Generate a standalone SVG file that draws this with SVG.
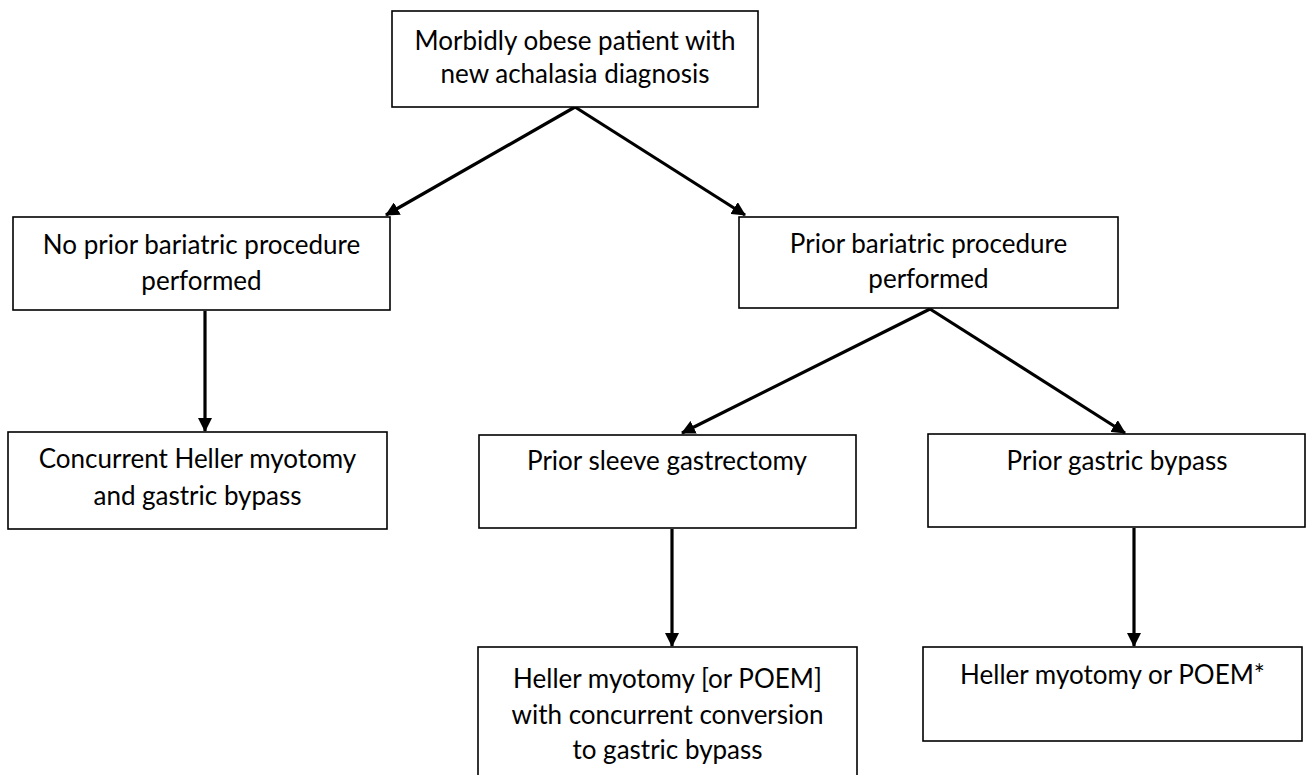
<svg xmlns="http://www.w3.org/2000/svg" width="1307" height="775" viewBox="0 0 1307 775">
<style>
.box{fill:#fff;stroke:#000;stroke-width:1.6}
.t{font-family:Lato,"Open Sans","Liberation Sans",sans-serif;font-size:26px;fill:#000;text-anchor:middle}
.c{stroke:#000;stroke-width:3.2;fill:none;marker-end:url(#ah)}
</style>
<defs>
<marker id="ah" viewBox="0 0 14 14" refX="13" refY="7" markerWidth="14" markerHeight="14" markerUnits="userSpaceOnUse" orient="auto">
<path d="M0,0 L14,7 L0,14 z" fill="#000"/>
</marker>
</defs>
<rect width="1307" height="775" fill="#fff"/>
<g id="connectors">
<line class="c" x1="575" y1="107" x2="386" y2="215"/>
<line class="c" x1="575" y1="107" x2="745" y2="215"/>
<line class="c" x1="205" y1="311" x2="205" y2="431"/>
<line class="c" x1="930" y1="309" x2="682" y2="433"/>
<line class="c" x1="930" y1="309" x2="1125" y2="433"/>
<line class="c" x1="672" y1="529" x2="672" y2="646"/>
<line class="c" x1="1134" y1="528" x2="1134" y2="646"/>
</g>
<g id="n1">
<rect class="box" x="392" y="11" width="366" height="96"/>
<text class="t" x="575" y="50">Morbidly obese patient with</text>
<text class="t" x="575" y="83">new achalasia diagnosis</text>
</g>
<g id="n2">
<rect class="box" x="13" y="217" width="377" height="93"/>
<text class="t" x="201.5" y="254">No prior bariatric procedure</text>
<text class="t" x="201.5" y="290">performed</text>
</g>
<g id="n3">
<rect class="box" x="739" y="217" width="379" height="91"/>
<text class="t" x="928.5" y="253">Prior bariatric procedure</text>
<text class="t" x="928.5" y="288">performed</text>
</g>
<g id="n4">
<rect class="box" x="8" y="432" width="379" height="97"/>
<text class="t" x="197.5" y="468">Concurrent Heller myotomy</text>
<text class="t" x="197.5" y="505">and gastric bypass</text>
</g>
<g id="n5">
<rect class="box" x="479" y="435" width="377" height="93"/>
<text class="t" x="667" y="470">Prior sleeve gastrectomy</text>
</g>
<g id="n6">
<rect class="box" x="928" y="434" width="377" height="93"/>
<text class="t" x="1117" y="470">Prior gastric bypass</text>
</g>
<g id="n7">
<rect class="box" x="478" y="647" width="379" height="130"/>
<text class="t" x="667.5" y="688">Heller myotomy [or POEM]</text>
<text class="t" x="667.5" y="724">with concurrent conversion</text>
<text class="t" x="667.5" y="759">to gastric bypass</text>
</g>
<g id="n8">
<rect class="box" x="923" y="647" width="379" height="94"/>
<text class="t" x="1112.5" y="684">Heller myotomy or POEM*</text>
</g>
</svg>
